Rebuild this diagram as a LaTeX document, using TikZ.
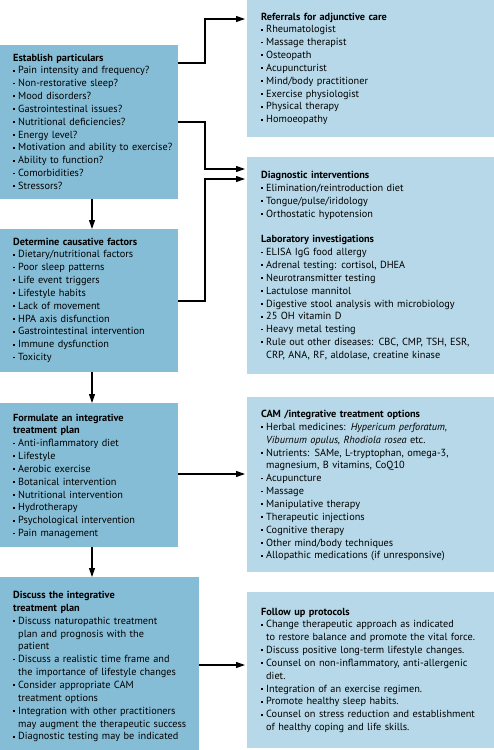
\documentclass[tikz,border=0pt]{standalone}
\usepackage{fontspec}
\setmainfont{PT Sans}
\usetikzlibrary{arrows.meta}
\definecolor{leftblue}{HTML}{86BDD6}
\definecolor{rightblue}{HTML}{B6D8E8}
\newcommand\itm{\makebox[5pt][l]{\raisebox{2.3pt}{\rule{1.8pt}{1.8pt}}}}
\newcommand\cnt{\hspace*{5pt}}
\begin{document}
\begin{tikzpicture}[x=1pt,y=-1pt,
  lbox/.style={rectangle,fill=leftblue,draw=none,inner sep=0pt,outer sep=0pt,anchor=north west},
  rbox/.style={rectangle,fill=rightblue,draw=none,inner sep=0pt,outer sep=0pt,anchor=north west},
  txt/.style={anchor=base west,inner sep=0pt,align=left,text width=#1,font=\fontsize{10.3}{12.85}\selectfont},
  txt/.default=190pt,
  arr/.style={line width=1.1pt,-{Triangle[length=9pt,width=6pt]},shorten >=2pt}]
\useasboundingbox (0,0) rectangle (494,750);
% boxes
\node[lbox,minimum width=178pt,minimum height=154pt] (b1) at (0,45) {};
\node[lbox,minimum width=178pt,minimum height=143pt] (b2) at (0,229) {};
\node[lbox,minimum width=178pt,minimum height=144pt] (b3) at (0,403) {};
\node[lbox,minimum width=199pt,minimum height=173pt] (b4) at (0,577) {};
\node[rbox,minimum width=247pt,minimum height=137pt] (r1) at (247,0) {};
\node[rbox,minimum width=247pt,minimum height=217pt] (r2) at (247,157) {};
\node[rbox,minimum width=247pt,minimum height=175pt] (r3) at (247,397) {};
\node[rbox,minimum width=247pt,minimum height=156pt] (r4) at (247,592) {};
% texts
\node[txt] (t1) at (13,61) {\textbf{Establish particulars}\\
\itm Pain intensity and frequency?\\
\itm Non-restorative sleep?\\
\itm Mood disorders?\\
\itm Gastrointestinal issues?\\
\itm Nutritional deficiencies?\\
\itm Energy level?\\
\itm Motivation and ability to exercise?\\
\itm Ability to function?\\
\itm Comorbidities?\\
\itm Stressors?};
\node[txt] (t2) at (13,245) {\textbf{Determine causative factors}\\
\itm Dietary/nutritional factors\\
\itm Poor sleep patterns\\
\itm Life event triggers\\
\itm Lifestyle habits\\
\itm Lack of movement\\
\itm HPA axis disfunction\\
\itm Gastrointestinal intervention\\
\itm Immune dysfunction\\
\itm Toxicity};
\node[txt] (t3) at (13,421) {\textbf{Formulate an integrative}\\
\textbf{treatment plan}\\
\itm Anti-inflammatory diet\\
\itm Lifestyle\\
\itm Aerobic exercise\\
\itm Botanical intervention\\
\itm Nutritional intervention\\
\itm Hydrotherapy\\
\itm Psychological intervention\\
\itm Pain management};
\node[txt] (t4) at (13,598.5) {\textbf{Discuss the integrative}\\
\textbf{treatment plan}\\
\itm Discuss naturopathic treatment\\
\cnt plan and prognosis with the\\
\cnt patient\\
\itm Discuss a realistic time frame and\\
\cnt the importance of lifestyle changes\\
\itm Consider appropriate CAM\\
\cnt treatment options\\
\itm Integration with other practitioners\\
\cnt may augment the therapeutic success\\
\itm Diagnostic testing may be indicated};
\node[txt=232pt] (u1) at (261,20) {\textbf{Referrals for adjunctive care}\\
\itm Rheumatologist\\
\itm Massage therapist\\
\itm Osteopath\\
\itm Acupuncturist\\
\itm Mind/body practitioner\\
\itm Exercise physiologist\\
\itm Physical therapy\\
\itm Homoeopathy};
\node[txt=232pt] (u2) at (261,178.5) {\textbf{Diagnostic interventions}\\
\itm Elimination/reintroduction diet\\
\itm Tongue/pulse/iridology\\
\itm Orthostatic hypotension\\[12.85pt]
\textbf{Laboratory investigations}\\
\itm ELISA IgG food allergy\\
\itm Adrenal testing: cortisol, DHEA\\
\itm Neurotransmitter testing\\
\itm Lactulose mannitol\\
\itm Digestive stool analysis with microbiology\\
\itm 25 OH vitamin D\\
\itm Heavy metal testing\\
\itm Rule out other diseases: CBC, CMP, TSH, ESR,\\
\cnt CRP, ANA, RF, aldolase, creatine kinase};
\node[txt=232pt] (u3) at (261,417.5) {\textbf{CAM /integrative treatment options}\\
\itm Herbal medicines: \textit{Hypericum perforatum,}\\
\cnt \textit{Viburnum opulus, Rhodiola rosea} etc.\\
\itm Nutrients: SAMe, L-tryptophan, omega-3,\\
\cnt magnesium, B vitamins, CoQ10\\
\itm Acupuncture\\
\itm Massage\\
\itm Manipulative therapy\\
\itm Therapeutic injections\\
\itm Cognitive therapy\\
\itm Other mind/body techniques\\
\itm Allopathic medications (if unresponsive)};
\node[txt=232pt] (u4) at (261,615) {\textbf{Follow up protocols}\\
\itm Change therapeutic approach as indicated\\
\cnt to restore balance and promote the vital force.\\
\itm Discuss positive long-term lifestyle changes.\\
\itm Counsel on non-inflammatory, anti-allergenic\\
\cnt diet.\\
\itm Integration of an exercise regimen.\\
\itm Promote healthy sleep habits.\\
\itm Counsel on stress reduction and establishment\\
\cnt of healthy coping and life skills.};
% connectors
\draw[arr] (b1.east |- 0,63) -| (205,19) -- (r1.west |- 0,19);
\draw[arr] (b1.east |- 0,122) -| (205,169) -- (r2.west |- 0,169);
\draw[arr] (b2.east |- 0,301) -| (205,179) -- (r2.west |- 0,179);
\draw[arr] (b3.east |- 0,474) -- (r3.west |- 0,474);
\draw[arr] (b4.east |- 0,665) -- (r4.west |- 0,665);
\draw[arr,shorten >=0pt] (b1.south -| 92,0) -- (b2.north -| 92,0);
\draw[arr,shorten >=0pt] (b2.south -| 92,0) -- (b3.north -| 92,0);
\draw[arr,shorten >=0pt] (b3.south -| 92,0) -- (b4.north -| 92,0);
\end{tikzpicture}
\end{document}
